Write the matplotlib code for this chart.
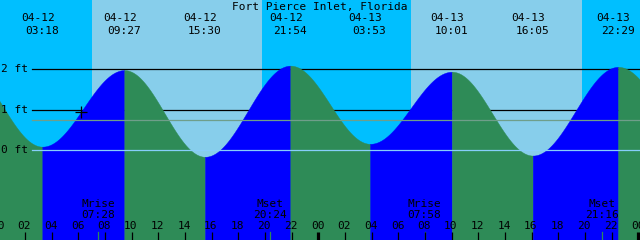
import numpy as np
import pandas as pd
import matplotlib
matplotlib.use("Agg")
import matplotlib.pyplot as plt

# ---------------- data ----------------
title = "Fort Pierce Inlet, Florida"

# high / low tide extremes (first and last lie outside the visible window)
tide_times = ["04-11 21:20", "04-12 03:18", "04-12 09:27", "04-12 15:30",
              "04-12 21:54", "04-13 03:53", "04-13 10:01", "04-13 16:05",
              "04-13 22:29", "04-14 04:30"]
tide_heights = [2.10, 0.09, 1.98, -0.16, 2.09, 0.16, 1.94, -0.13, 2.06, 0.20]

sun_times = ["04-12 07:01", "04-12 19:47", "04-13 06:57", "04-13 19:46"]  # rise, set, rise, set

moon_times = ["04-12 07:28", "04-12 20:24", "04-13 07:58", "04-13 21:16"]
moon_events = ["Mrise", "Mset", "Mrise", "Mset"]

depth_levels = [0, 1, 2]
depth_labels = ["0 ft", "1 ft", "2 ft"]
msl_level = 0.74

mark_time = "04-12 06:13"
mark_height = 0.95

hour_ticks = list(range(0, 50, 2))
hour_tick_labels = ["%02d" % (h % 24) for h in hour_ticks]

# ---------------- helpers ----------------
BASE = pd.Timestamp("1900-04-12 00:00")


def hours(s):
    return (pd.to_datetime("1900-" + s, format="%Y-%m-%d %H:%M") - BASE).total_seconds() / 3600.0


X0 = 0.125                 # hour at the left edge
PXH = 640 / 48.0           # pixels per hour
Y0PX, PXFT = 150.3, 40.5   # pixel row of 0 ft, pixels per foot
YTOP = Y0PX / PXFT
YBOT = (Y0PX - 240) / PXFT


def X(px):
    return X0 + px / PXH


def Y(py):
    return (Y0PX - py) / PXFT


T = np.array([hours(s) for s in tide_times])
H = np.array(tide_heights)

NIGHT = "#00bfff"
DAY = "#87ceeb"
RISE = "#0000ff"
FALL = "#2e8b57"
MSLC = "#6f9e8a"
DATUMC = "#87cefa"
FONT = dict(family="DejaVu Sans Mono", size=8.0, color="black")

fig = plt.figure(figsize=(6.4, 2.4), dpi=100)
ax = fig.add_axes([0, 0, 1, 1])
ax.set_xlim(X0, X0 + 48)
ax.set_ylim(YBOT, YTOP)
ax.axis("off")

# sky bands
st = [hours(s) for s in sun_times]
ax.axvspan(X0 - 1, st[0], color=NIGHT, lw=0, zorder=0)
ax.axvspan(st[0], st[1], color=DAY, lw=0, zorder=0)
ax.axvspan(st[1], st[2], color=NIGHT, lw=0, zorder=0)
ax.axvspan(st[2], st[3], color=DAY, lw=0, zorder=0)
ax.axvspan(st[3], X0 + 49, color=NIGHT, lw=0, zorder=0)

# depth lines (visible only in the sky)
for lv in [1, 2]:
    ax.plot([X(32), X0 + 48], [lv, lv], color="black", lw=0.9, zorder=1)

# tide curve, filled by rising / falling
for i in range(len(T) - 1):
    t = np.linspace(T[i], T[i + 1], 400)
    f = (t - T[i]) / (T[i + 1] - T[i])
    h = H[i] + (H[i + 1] - H[i]) * (1 - np.cos(np.pi * f)) / 2
    col = RISE if H[i + 1] > H[i] else FALL
    ax.fill_between(t, YBOT - 1, h, color=col, lw=0.3, ec=col, zorder=2)

# mean sea level and datum lines
ax.plot([X(32), X0 + 48], [msl_level, msl_level], color=MSLC, lw=0.9, zorder=3)
ax.plot([X(32), X0 + 48], [0, 0], color=DATUMC, lw=0.9, zorder=3)

# mark
ax.plot([hours(mark_time)], [mark_height], marker="+", ms=8, mew=0.9,
        color="black", zorder=4)

# depth labels
for lv, lab in zip(depth_levels, depth_labels):
    ax.text(X(1.5), lv, lab, ha="left", va="center", zorder=5, **FONT)

# title
ax.text(X(320), Y(9.6), title, ha="center", va="baseline", zorder=5, **FONT)

# tide time labels
for s, t in zip(tide_times, T):
    if X0 <= t <= X0 + 48:
        d, hm = s.split()
        ax.text(t - 4.5 / PXH, Y(21.2), d, ha="center", va="baseline", zorder=5, **FONT)
        ax.text(t - 0.5 / PXH, Y(34.2), hm, ha="center", va="baseline", zorder=5, **FONT)

# moon events
for s, ev in zip(moon_times, moon_events):
    t = hours(s)
    ax.text(t, Y(206.8), ev, ha="center", va="baseline", zorder=5, **FONT)
    ax.text(t, Y(218.2), s.split()[1], ha="center", va="baseline", zorder=5, **FONT)
    ax.plot([t, t], [Y(231.7), YBOT - 0.1], color=FALL, lw=0.9, zorder=5)

# hour ticks and labels
for hv, lab in zip(hour_ticks, hour_tick_labels):
    lw = 2.3 if hv % 24 == 0 else 0.9
    ax.plot([hv, hv], [Y(231.7), YBOT - 0.1], color="black", lw=lw, zorder=5,
            solid_capstyle="butt")
    ax.text(hv - 0.8 / PXH, Y(229.4), lab, ha="center", va="baseline", zorder=5, **FONT)

fig.savefig("out.png", dpi=100)
